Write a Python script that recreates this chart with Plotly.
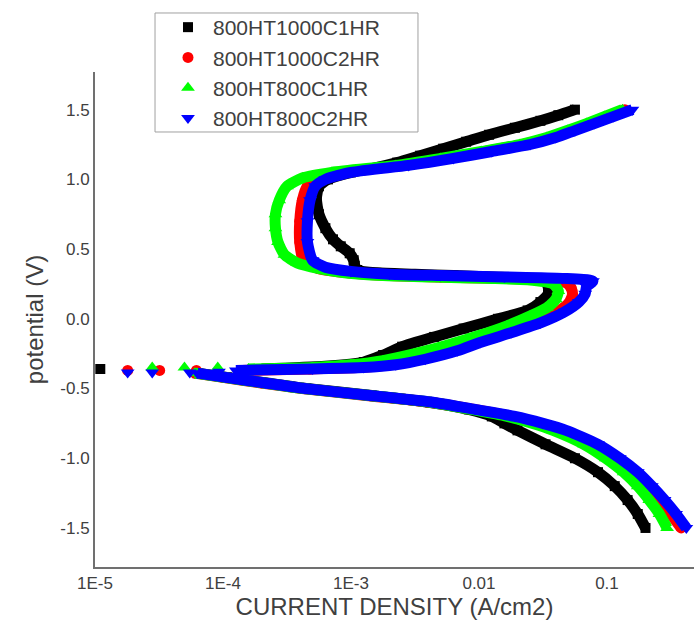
import plotly.graph_objects as go

# ---------------- data ----------------
series_names = ["800HT1000C1HR", "800HT1000C2HR", "800HT800C1HR", "800HT800C2HR"]

# cathodic branch potentials (V), shared by all samples
E_cath = [-1.50, -1.40, -1.30, -1.20, -1.10, -1.00, -0.90, -0.80, -0.75, -0.70,
          -0.65, -0.60, -0.55, -0.50, -0.46, -0.42, -0.39]

# cathodic current densities (A/cm2)
i_cath_1000C1 = [0.200, 0.174, 0.145, 0.115, 0.0851, 0.0562, 0.0331, 0.0200, 0.0158, 0.0126,
                 0.00832, 0.00417, 0.00145, 4.47e-4, 2.19e-4, 1.07e-4, 6.31e-5]
i_cath_1000C2 = [0.380, 0.316, 0.257, 0.204, 0.158, 0.115, 0.0776, 0.0437, 0.0295, 0.0178,
                 0.00912, 0.00427, 0.00132, 4.17e-4, 2.00e-4, 1.00e-4, 6.03e-5]
i_cath_800C1 = [0.295, 0.257, 0.214, 0.174, 0.135, 0.0977, 0.0661, 0.0380, 0.0263, 0.0166,
                0.00871, 0.00427, 0.00138, 4.27e-4, 2.09e-4, 1.02e-4, 6.03e-5]
i_cath_800C2 = [0.417, 0.347, 0.282, 0.224, 0.174, 0.126, 0.0851, 0.0479, 0.0316, 0.0191,
                0.00933, 0.00447, 0.00141, 4.37e-4, 2.14e-4, 1.05e-4, 6.31e-5]

# points scattered around the corrosion potential
E_corr_1000C1 = [-0.36]
i_corr_1000C1 = [1.1e-5]
E_corr_1000C2 = [-0.37, -0.37, -0.37]
i_corr_1000C2 = [1.8e-5, 3.2e-5, 6.2e-5]
E_corr_800C1 = [-0.35, -0.35, -0.35]
i_corr_800C1 = [2.8e-5, 5.0e-5, 9.1e-5]
E_corr_800C2 = [-0.385, -0.385, -0.385, -0.38]
i_corr_800C2 = [1.8e-5, 2.8e-5, 5.5e-5, 9.3e-5]

# anodic branches
E_an_1000C1 = [-0.36, -0.34, -0.31, -0.26, -0.20, -0.13, -0.07, 0.00, 0.06, 0.12,
               0.18, 0.23, 0.27, 0.29, 0.30, 0.31, 0.32, 0.33, 0.35, 0.38,
               0.42, 0.47, 0.52, 0.57, 0.65, 0.75, 0.86, 0.95, 1.00, 1.05,
               1.08, 1.12, 1.17, 1.22, 1.27, 1.32, 1.37, 1.42, 1.46, 1.50]
i_an_1000C1 = [2.00e-4, 6.31e-4, 1.26e-3, 1.78e-3, 2.51e-3, 4.47e-3, 7.59e-3, 0.0141, 0.0240, 0.0302,
               0.0347, 0.0347, 0.0331, 0.0251, 0.0126, 6.31e-3, 3.16e-3, 1.58e-3, 1.12e-3, 1.07e-3,
               1.05e-3, 9.77e-4, 8.32e-4, 7.24e-4, 6.31e-4, 5.62e-4, 5.37e-4, 5.62e-4, 6.61e-4, 1.00e-3,
               1.51e-3, 2.29e-3, 3.47e-3, 5.25e-3, 7.94e-3, 0.0120, 0.0191, 0.0302, 0.0417, 0.0562]

E_an_1000C2 = [-0.37, -0.36, -0.35, -0.33, -0.29, -0.23, -0.17, -0.10, -0.03, 0.04,
               0.11, 0.17, 0.22, 0.26, 0.28, 0.29, 0.30, 0.31, 0.33, 0.36,
               0.41, 0.55, 0.70, 0.85, 0.95, 1.00, 1.05, 1.10, 1.15, 1.20,
               1.25, 1.30, 1.35, 1.40, 1.45, 1.50]
i_an_1000C2 = [1.41e-4, 4.79e-4, 1.12e-3, 2.00e-3, 3.47e-3, 6.03e-3, 8.91e-3, 0.0158, 0.0263, 0.0398,
               0.0501, 0.0537, 0.0525, 0.0479, 0.0316, 0.0141, 0.00501, 0.00200, 9.55e-4, 5.62e-4,
               4.27e-4, 3.98e-4, 3.98e-4, 4.17e-4, 4.57e-4, 5.62e-4, 8.91e-4, 2.51e-3, 5.62e-3, 0.0112,
               0.0219, 0.0355, 0.0513, 0.0724, 0.100, 0.138]

E_an_800C1 = [-0.36, -0.35, -0.33, -0.30, -0.25, -0.19, -0.12, -0.05, 0.02, 0.08,
              0.14, 0.20, 0.25, 0.28, 0.29, 0.30, 0.31, 0.33, 0.36, 0.40,
              0.46, 0.55, 0.65, 0.75, 0.85, 0.95, 1.01, 1.05, 1.10, 1.15,
              1.20, 1.25, 1.30, 1.35, 1.40, 1.45, 1.50]
i_an_800C1 = [1.58e-4, 5.01e-4, 1.00e-3, 1.78e-3, 3.16e-3, 5.62e-3, 0.0100, 0.0166, 0.0251, 0.0339,
              0.0398, 0.0417, 0.0380, 0.0240, 0.0112, 0.00447, 0.00178, 8.91e-4, 5.62e-4, 3.80e-4,
              3.02e-4, 2.69e-4, 2.57e-4, 2.57e-4, 2.75e-4, 3.16e-4, 4.17e-4, 7.08e-4, 2.24e-3, 5.01e-3,
              0.0105, 0.0209, 0.0339, 0.0490, 0.0692, 0.0955, 0.132]

E_an_800C2 = [-0.37, -0.36, -0.35, -0.33, -0.29, -0.23, -0.17, -0.10, -0.03, 0.05,
              0.12, 0.18, 0.23, 0.27, 0.29, 0.30, 0.31, 0.32, 0.34, 0.37,
              0.42, 0.55, 0.70, 0.85, 0.95, 1.00, 1.05, 1.10, 1.15, 1.20,
              1.25, 1.30, 1.35, 1.40, 1.45, 1.50]
i_an_800C2 = [1.26e-4, 5.01e-4, 1.26e-3, 2.24e-3, 3.80e-3, 6.76e-3, 0.0102, 0.0178, 0.0302, 0.0468,
              0.0603, 0.0676, 0.0692, 0.0776, 0.0447, 0.0158, 0.00501, 0.00200, 0.00100, 6.31e-4,
              5.01e-4, 4.57e-4, 4.57e-4, 4.79e-4, 5.25e-4, 6.31e-4, 1.00e-3, 2.82e-3, 6.31e-3, 0.0126,
              0.0251, 0.0398, 0.0562, 0.0794, 0.112, 0.158]

x_tickvals = [1e-5, 1e-4, 1e-3, 1e-2, 1e-1]
x_ticktext = ["1E-5", "1E-4", "1E-3", "0.01", "0.1"]
y_tickvals = [-1.5, -1.0, -0.5, 0.0, 0.5, 1.0, 1.5]
y_ticktext = ["-1.5", "-1.0", "-0.5", "0.0", "0.5", "1.0", "1.5"]

# ---------------- styling ----------------
colors = ["#000000", "#ff0000", "#00ff00", "#0000ff"]
symbols = ["square", "circle", "triangle-up", "triangle-down"]
msizes = [10, 11, 12, 12]
band_width = 11
FONT = "Arial, Liberation Sans, sans-serif"

cath = [i_cath_1000C1, i_cath_1000C2, i_cath_800C1, i_cath_800C2]
corrE = [E_corr_1000C1, E_corr_1000C2, E_corr_800C1, E_corr_800C2]
corrI = [i_corr_1000C1, i_corr_1000C2, i_corr_800C1, i_corr_800C2]
anE = [E_an_1000C1, E_an_1000C2, E_an_800C1, E_an_800C2]
anI = [i_an_1000C1, i_an_1000C2, i_an_800C1, i_an_800C2]

fig = go.Figure()
for k in range(4):
    for xs, ys in ((cath[k], E_cath), (anI[k], anE[k])):
        fig.add_trace(go.Scatter(
            x=xs, y=ys, mode="lines",
            line=dict(color=colors[k], width=band_width, shape="spline", smoothing=0.6),
            showlegend=False, hoverinfo="skip"))
    fig.add_trace(go.Scatter(
        x=cath[k] + corrI[k] + anI[k], y=E_cath + corrE[k] + anE[k],
        mode="markers", name=series_names[k],
        marker=dict(color=colors[k], symbol=symbols[k], size=msizes[k], line=dict(width=0)),
    ))

axis_font = dict(family=FONT, size=17, color="#404040")
title_font = dict(family=FONT, size=24, color="#404040")

# legend frame
fig.add_shape(type="rect", xref="paper", yref="paper",
              x0=0.1002, x1=0.5392, y0=0.8788, y1=1.1192,
              line=dict(color="#a0a0a0", width=1), fillcolor="white", layer="above")

fig.update_layout(
    width=694, height=623,
    margin=dict(l=95, r=0, t=72, b=56, pad=0),
    paper_bgcolor="white", plot_bgcolor="white",
    font=dict(family=FONT, color="#404040"),
    legend=dict(
        x=0.1135, y=1.1313, xanchor="left", yanchor="top",
        bgcolor="rgba(0,0,0,0)", borderwidth=0,
        font=dict(family=FONT, size=21, color="#404040"),
        itemwidth=40, tracegroupgap=0,
    ),
    xaxis=dict(
        type="log", range=[-5, -0.32],
        showline=True, linecolor="#707070", linewidth=2, mirror=False,
        showgrid=False, zeroline=False, ticks="",
        tickvals=x_tickvals, ticktext=x_ticktext, tickfont=axis_font,
        title=dict(text="CURRENT DENSITY (A/cm2)", font=title_font, standoff=5),
    ),
    yaxis=dict(
        range=[-1.78, 1.77],
        showline=True, linecolor="#707070", linewidth=2, mirror=False,
        showgrid=False, zeroline=False, ticks="",
        tickvals=y_tickvals, ticktext=y_ticktext, tickfont=axis_font,
        title=dict(text="potential (V)", font=title_font, standoff=10),
    ),
)

fig.write_html("out.html")
